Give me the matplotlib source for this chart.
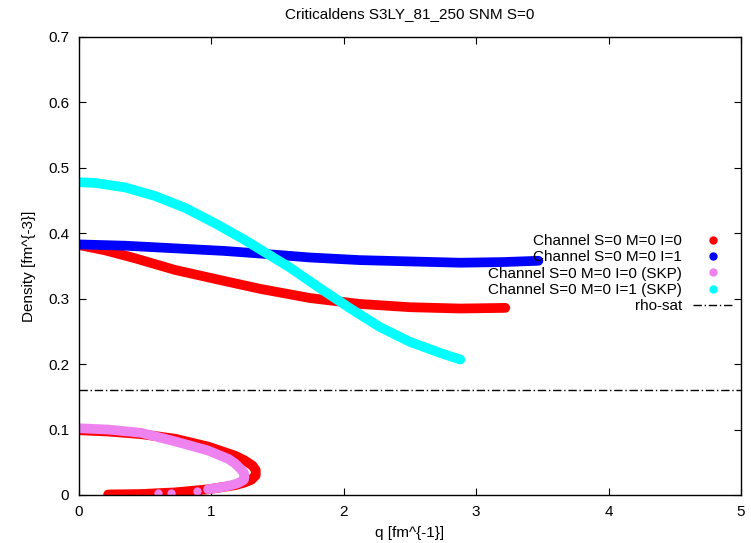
import matplotlib
matplotlib.use("Agg")
import matplotlib.pyplot as plt
from matplotlib.lines import Line2D

plt.rcParams['font.family'] = ['Liberation Sans', 'DejaVu Sans']

# Channel S=0 M=0 I=0 (upper branch)
red_q = [0.0, 0.196, 0.42, 0.725, 1.10, 1.37, 1.745, 2.12, 2.5, 2.88, 3.22]
red_rho = [0.382, 0.374, 0.362, 0.344, 0.327, 0.315, 0.301, 0.292, 0.287, 0.285, 0.286]
# Channel S=0 M=0 I=0 (lower closed branch)
red_lo_q = [0.0, 0.22, 0.47, 0.725, 0.975, 1.18, 1.25, 1.31, 1.335, 1.335, 1.30,
            1.25, 1.18, 0.975, 0.725, 0.47, 0.22]
red_lo_rho = [0.099, 0.097, 0.093, 0.086, 0.074, 0.060, 0.053, 0.045, 0.038, 0.030, 0.023,
              0.019, 0.015, 0.0087, 0.004, 0.0015, 0.0008]

# Channel S=0 M=0 I=1
blue_q = [0.0, 0.35, 0.725, 1.1, 1.37, 1.745, 2.12, 2.5, 2.88, 3.2, 3.47]
blue_rho = [0.383, 0.381, 0.377, 0.373, 0.369, 0.363, 0.359, 0.357, 0.355, 0.356, 0.358]

# Channel S=0 M=0 I=0 (SKP)
pink_q = [0.0, 0.22, 0.47, 0.725, 0.975, 1.13, 1.18, 1.22, 1.245, 1.25, 1.245, 1.2, 1.15,
          1.10, 0.975]
pink_rho = [0.102, 0.100, 0.095, 0.082, 0.068, 0.055, 0.048, 0.040, 0.034, 0.028, 0.023,
            0.018, 0.015, 0.0127, 0.0087]
pink_dot_q = [0.60, 0.695, 0.89]
pink_dot_rho = [0.0025, 0.0035, 0.006]

# Channel S=0 M=0 I=1 (SKP)
cyan_q = [0.0, 0.12, 0.35, 0.574, 0.80, 1.03, 1.25, 1.46, 1.59, 1.82, 2.05, 2.27, 2.5,
          2.73, 2.88]
cyan_rho = [0.478, 0.477, 0.470, 0.457, 0.439, 0.415, 0.390, 0.364, 0.348, 0.316, 0.285,
            0.257, 0.234, 0.217, 0.207]

rho_sat = 0.16

fig = plt.figure(figsize=(7.51, 5.43), dpi=100)
ax = fig.add_axes([79 / 751, 1 - 495 / 543, 662 / 751, 458 / 543])

lw = 7
style = dict(lw=lw, solid_capstyle='round', solid_joinstyle='round')
ax.plot(red_q, red_rho, color='red', **style)
ax.plot(red_lo_q, red_lo_rho, color='red', **style)
ax.plot(blue_q, blue_rho, color='blue', **style)
ax.plot(pink_q, pink_rho, color='violet', **style)
ax.plot(pink_dot_q, pink_dot_rho, 'o', color='violet', ms=6, mec='none')
ax.plot(cyan_q, cyan_rho, color='cyan', **style)
ax.axhline(rho_sat, color='black', lw=1, ls=(0, (6, 2, 1, 2)))

ax.set_xlim(0, 5)
ax.set_ylim(0, 0.7)
ax.set_xticks(range(6))
ax.set_xticklabels([str(i) for i in range(6)])
ax.set_yticks([i / 10 for i in range(8)])
ax.set_yticklabels(['0'] + ['0.%d' % i for i in range(1, 8)])
ax.tick_params(direction='in', top=True, right=True, length=5, width=0.8, labelsize=11, pad=7)
for s in ax.spines.values():
    s.set_linewidth(1)

ax.set_xlabel('q [fm^{-1}]', fontsize=11, labelpad=5)
ax.set_ylabel('Density [fm^{-3}]', fontsize=11, labelpad=9)
ax.set_title('Criticaldens S3LY_81_250 SNM S=0', fontsize=11, pad=14)

handles = [
    Line2D([], [], ls='none', marker='o', color='red', ms=5),
    Line2D([], [], ls='none', marker='o', color='blue', ms=5),
    Line2D([], [], ls='none', marker='o', color='violet', ms=5),
    Line2D([], [], ls='none', marker='o', color='cyan', ms=5),
    Line2D([], [], color='black', lw=1, ls=(0, (6, 2, 1, 2))),
]
labels = ['Channel S=0 M=0 I=0', 'Channel S=0 M=0 I=1',
          'Channel S=0 M=0 I=0 (SKP)', 'Channel S=0 M=0 I=1 (SKP)', 'rho-sat']
ax.legend(handles, labels, loc='upper right', bbox_to_anchor=(733 / 751, 1 - 234 / 543),
          bbox_transform=fig.transFigure, frameon=False, markerfirst=False,
          fontsize=11, handlelength=2.6, handletextpad=0.75, labelspacing=0.15,
          borderpad=0, borderaxespad=0)

fig.savefig('out.png', dpi=100)
